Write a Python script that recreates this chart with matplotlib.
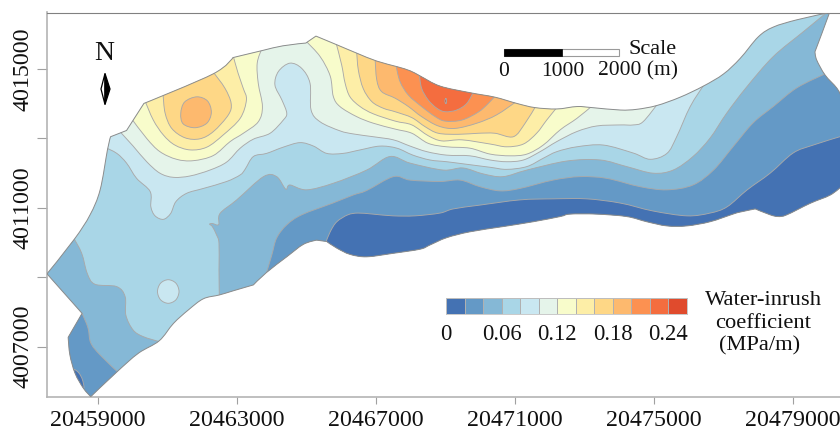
import matplotlib
matplotlib.use('Agg')
import numpy as np
import matplotlib.pyplot as plt
from matplotlib.colors import ListedColormap, BoundaryNorm
from matplotlib.patches import PathPatch, Polygon, Rectangle
from matplotlib.path import Path

plt.rcParams['font.family'] = ['Liberation Serif', 'DejaVu Serif']

# map origin, all outlines below are km east / north of it
E0 = 20459000
N0 = 4007000

levels = [0, 0.02, 0.04, 0.06, 0.08, 0.10, 0.12, 0.14, 0.16, 0.18, 0.20, 0.22, 0.24, 0.26]
band_colors = ['#4472b3', '#6499c6', '#85b8d6', '#a9d6e7', '#c9e7f1', '#e5f4ea', '#f8fccb',
               '#fdeea7', '#fed786', '#fdb96e', '#fc9151', '#f46d3f', '#e04b2d']
cbar_ticks = [0, 0.06, 0.12, 0.18, 0.24]
x_ticks = [20459000, 20463000, 20467000, 20471000, 20475000, 20479000]
y_ticks = [4007000, 4009000, 4011000, 4013000, 4015000]
y_labels = ['4007000', '', '4011000', '', '4015000']

area = [(-1.46, 2.10), (-0.67, 3.10), (-0.22, 3.80), (0.07, 4.52), (0.28, 5.67), (0.37, 6.05),
        (0.83, 6.23), (1.33, 7.01), (3.32, 7.86), (3.89, 8.33), (4.72, 8.53), (5.33, 8.67),
        (5.99, 8.75), (6.28, 8.95), (6.88, 8.70), (7.45, 8.46), (8.03, 8.23), (8.61, 8.07),
        (8.99, 7.95), (9.28, 7.80), (9.85, 7.51), (10.71, 7.32), (11.43, 7.19), (12.06, 7.01),
        (12.58, 6.89), (13.21, 6.85), (13.79, 6.92), (14.22, 6.89), (15.03, 6.82), (15.51, 6.84),
        (16.09, 6.95), (16.76, 7.19), (17.43, 7.51), (18.01, 7.86), (18.49, 8.31), (19.01, 8.93),
        (19.44, 9.21), (20.12, 9.42), (21.06, 9.63), (20.84, 9.03), (20.64, 8.50), (20.69, 8.26),
        (20.93, 7.83), (21.27, 7.45), (21.42, 7.17), (21.42, 4.63), (21.08, 4.37), (20.50, 4.13),
        (19.83, 3.80), (19.58, 3.75), (19.35, 3.80), (18.92, 3.97), (18.49, 3.88), (18.28, 3.82),
        (17.62, 3.60), (16.95, 3.48), (16.38, 3.48), (15.80, 3.60), (15.22, 3.75), (14.36, 3.82),
        (13.59, 3.82), (13.31, 3.75), (12.53, 3.60), (11.66, 3.46), (10.71, 3.31), (10.04, 3.14),
        (9.56, 2.93), (9.28, 2.81), (8.50, 2.69), (7.74, 2.59), (7.26, 2.66), (6.88, 2.84),
        (6.59, 3.03), (6.30, 3.07), (5.92, 2.95), (5.44, 2.59), (4.86, 2.14), (4.48, 1.78),
        (3.90, 1.61), (3.50, 1.49), (3.04, 1.38), (2.61, 1.06), (2.18, 0.67), (1.77, 0.17),
        (1.17, -0.19), (0.56, -0.72), (-0.20, -1.44), (-0.41, -1.20), (-0.65, -0.77), (-0.80, -0.24),
        (-0.85, 0.27), (-0.45, 0.96)]

# isolines, each one runs from edge to edge of the area
iso_002 = [(6.56, 2.99), (6.69, 3.31), (6.88, 3.60), (7.20, 3.80), (7.49, 3.85), (7.92, 3.82),
           (8.50, 3.77), (9.13, 3.77), (9.85, 3.85), (10.23, 3.97), (11.00, 4.08), (12.15, 4.23),
           (13.10, 4.26), (14.07, 4.26), (15.03, 4.14), (15.98, 3.91), (16.96, 3.77), (17.62, 3.85),
           (18.11, 4.03), (18.69, 4.52), (19.35, 5.00), (20.01, 5.58), (20.59, 5.81), (21.42, 6.07)]
iso_002_tip = [(-0.68, -0.66), (-0.54, -0.76), (-0.44, -0.95), (-0.40, -1.19), (-0.55, -1.10), (-0.68, -0.84)]

iso_004 = [(4.84, 2.07), (5.01, 2.64), (5.15, 3.13), (5.44, 3.51), (5.87, 3.80), (6.77, 4.14),
           (7.35, 4.37), (7.74, 4.50), (8.51, 4.90), (8.99, 4.80), (9.85, 4.76), (10.43, 4.80),
           (11.00, 4.61), (11.58, 4.49), (12.15, 4.56), (13.10, 4.80), (13.88, 4.90), (14.65, 4.85),
           (15.61, 4.61), (16.38, 4.52), (17.13, 4.66), (17.72, 5.09), (18.28, 5.76), (18.86, 6.45),
           (19.44, 6.92), (20.12, 7.46), (20.99, 7.89)]
iso_004_sw = [(-0.45, 0.96), (-0.28, 0.54), (-0.20, 0.11), (0.07, -0.24), (0.64, -0.79)]

iso_006 = [(3.50, 1.40), (3.49, 2.21), (3.49, 2.98), (3.42, 3.22), (3.30, 3.46), (3.22, 3.53),
           (3.30, 3.55), (3.48, 3.52), (3.52, 3.84), (4.00, 4.23), (4.77, 4.90), (5.15, 4.90),
           (5.41, 4.54), (5.53, 4.66), (6.01, 4.52), (6.78, 4.71), (7.74, 5.09), (8.41, 5.48),
           (8.99, 5.29), (9.94, 5.09), (10.51, 5.15), (11.09, 4.98), (11.66, 4.90), (12.35, 5.09),
           (13.50, 5.35), (14.46, 5.38), (15.22, 5.19), (15.98, 5.00), (16.56, 5.09), (17.13, 5.48),
           (17.62, 6.01), (18.10, 6.73), (18.68, 7.49), (19.44, 8.36), (20.31, 9.08), (21.10, 9.73)]
iso_006_sw = [(-0.70, 3.15), (-0.46, 2.69), (-0.30, 2.11), (-0.08, 1.80), (0.55, 1.73), (0.79, 1.44),
              (0.81, 0.91), (1.02, 0.48), (1.31, 0.29), (1.79, 0.14)]

iso_008 = [(0.18, 5.76), (0.55, 5.57), (0.83, 5.29), (1.12, 4.85), (1.51, 4.47), (1.53, 4.03),
           (1.65, 3.77), (1.89, 3.67), (2.10, 3.84), (2.25, 4.18), (2.56, 4.42), (3.04, 4.56),
           (3.71, 4.76), (4.10, 4.95), (4.24, 5.11), (4.48, 5.48), (4.86, 5.57), (5.34, 5.75),
           (5.82, 5.88), (6.21, 5.78), (6.59, 5.57), (7.06, 5.57), (7.55, 5.67), (8.12, 5.78),
           (8.61, 5.72), (9.07, 5.52), (9.56, 5.38), (10.04, 5.33), (10.51, 5.27), (11.29, 5.17),
           (11.77, 5.11), (12.35, 5.19), (12.82, 5.43), (13.21, 5.62), (13.79, 5.76), (14.55, 5.81),
           (15.41, 5.58), (15.90, 5.40), (16.38, 5.57), (16.66, 6.05), (17.05, 6.92), (17.48, 7.60)]
iso_008_pocket = [(2.03, 1.93), (2.25, 1.83), (2.34, 1.59), (2.25, 1.35), (2.03, 1.25), (1.81, 1.35),
                  (1.72, 1.59), (1.81, 1.83)]

iso_010 = [(0.61, 6.23), (1.02, 5.78), (1.41, 5.33), (1.79, 5.00), (2.18, 4.88), (2.66, 4.92),
           (3.23, 5.09), (3.71, 5.32), (4.10, 5.72), (4.48, 5.98), (4.96, 6.15), (5.34, 6.53),
           (5.44, 6.73), (5.30, 7.11), (5.10, 7.54), (5.20, 7.93), (5.53, 8.17), (5.87, 8.02),
           (6.11, 7.59), (6.14, 6.82), (6.40, 6.48), (6.97, 6.22), (7.36, 6.13), (7.93, 6.05),
           (8.51, 5.96), (8.99, 5.78), (9.47, 5.62), (10.04, 5.52), (10.71, 5.50), (11.29, 5.38),
           (11.77, 5.33), (12.25, 5.38), (12.73, 5.62), (13.21, 5.91), (13.79, 6.20), (14.36, 6.36),
           (15.03, 6.39), (15.41, 6.39), (15.69, 6.48), (16.13, 7.02)]

iso_012_w = [(0.96, 6.59), (1.41, 6.00), (1.79, 5.62), (2.27, 5.40), (2.75, 5.36), (3.33, 5.51),
             (3.81, 5.91), (4.19, 6.15), (4.62, 6.48), (4.74, 6.92), (4.62, 7.59), (4.59, 8.17), (4.73, 8.61)]
iso_012_e = [(5.99, 8.81), (6.40, 8.36), (6.69, 7.80), (6.78, 7.21), (6.97, 6.92), (7.45, 6.63),
             (7.93, 6.44), (8.56, 6.27), (9.04, 6.15), (9.51, 5.86), (10.04, 5.76), (10.71, 5.72),
             (11.29, 5.55), (11.87, 5.50), (12.35, 5.55), (12.82, 5.81), (13.31, 6.25), (13.79, 6.58),
             (14.23, 6.94)]

iso_014_w = [(1.35, 7.11), (1.60, 6.53), (1.89, 6.10), (2.22, 5.81), (2.66, 5.67), (3.14, 5.75),
             (3.61, 6.10), (4.10, 6.58), (4.28, 7.11), (4.19, 7.44), (4.04, 7.88), (3.89, 8.41)]
iso_014_e = [(6.86, 8.75), (7.02, 8.12), (7.12, 7.59), (7.26, 7.20), (7.55, 6.92), (7.93, 6.71),
             (8.56, 6.50), (9.04, 6.39), (9.51, 6.08), (9.90, 5.93), (10.48, 5.96), (11.29, 5.84),
             (11.77, 5.76), (12.25, 5.84), (12.63, 6.15), (12.92, 6.53), (13.25, 6.94)]

iso_016_w = [(1.88, 7.28), (1.94, 6.73), (2.13, 6.29), (2.51, 6.02), (2.94, 5.99), (3.33, 6.20),
             (3.76, 6.68), (3.84, 7.01), (3.66, 7.45), (3.32, 7.92)]
iso_016_e = [(7.45, 8.52), (7.50, 7.97), (7.64, 7.44), (7.89, 7.06), (8.22, 6.87), (8.56, 6.77),
             (9.04, 6.60), (9.42, 6.34), (9.80, 6.15), (10.38, 6.12), (10.95, 6.15), (11.43, 6.15),
             (11.96, 6.05), (12.30, 6.44), (12.61, 6.94)]

iso_018_w = [(2.39, 6.72), (2.50, 7.05), (2.85, 7.20), (3.16, 7.08), (3.27, 6.75), (3.14, 6.44),
             (2.80, 6.31), (2.46, 6.42)]
iso_018_e = [(7.98, 8.32), (8.03, 7.69), (8.17, 7.35), (8.56, 7.16), (8.94, 6.92), (9.32, 6.63),
             (9.80, 6.36), (10.28, 6.29), (10.91, 6.44), (11.48, 6.68), (12.07, 7.08)]

iso_020 = [(8.58, 8.12), (8.70, 7.64), (8.94, 7.25), (9.32, 6.92), (9.71, 6.63), (10.00, 6.50),
           (10.48, 6.53), (10.95, 6.76), (11.23, 7.00), (11.46, 7.25)]
iso_022 = [(9.25, 7.89), (9.32, 7.45), (9.51, 7.11), (9.76, 6.87), (10.00, 6.77), (10.33, 6.82),
           (10.62, 7.01), (10.83, 7.37)]
iso_024 = [(10.02, 7.16), (10.04, 7.08), (10.02, 7.00), (9.99, 7.08)]


def to_map(pts):
    pts = np.array(pts, dtype=float)
    return np.column_stack((E0 + 1000 * pts[:, 0], N0 + 1000 * pts[:, 1]))


def spline(pts, closed=False, corner_deg=None):
    # catmull-rom through the read points, as bezier segments
    pts = to_map(pts)
    if closed:
        p = np.vstack((pts[-1], pts, pts[0], pts[1]))
    else:
        p = np.vstack((pts[0], pts, pts[-1]))
    tan = np.zeros_like(p)
    tan[1:-1] = (p[2:] - p[:-2]) / 6
    if corner_deg is not None:
        # sharp vertices of the outline keep no tangent
        for i in range(1, len(p) - 1):
            a = p[i] - p[i - 1]
            b = p[i + 1] - p[i]
            cos_t = a.dot(b) / (np.linalg.norm(a) * np.linalg.norm(b))
            if np.degrees(np.arccos(np.clip(cos_t, -1, 1))) > corner_deg:
                tan[i] = 0
    verts = [p[1]]
    codes = [Path.MOVETO]
    for i in range(1, len(p) - 2):
        verts += [p[i] + tan[i], p[i + 1] - tan[i + 1], p[i + 1]]
        codes += [Path.CURVE4] * 3
    return verts, codes


def band(pts, color, outer=None, closed=False):
    # outer = points outside the area that close the fill, default is straight up over the north
    verts, codes = spline(pts, closed)
    if not closed:
        if outer is None:
            outer = [(pts[-1][0], 10.3), (pts[0][0], 10.3)]
        verts = verts + list(to_map(outer)) + [verts[0]]
        codes = codes + [Path.LINETO] * len(outer) + [Path.CLOSEPOLY]
    fill = PathPatch(Path(verts, codes), fc=color, ec='none', zorder=2)
    ax.add_patch(fill)
    fill.set_clip_path(clip)
    v2, c2 = spline(pts, closed)
    stroke = PathPatch(Path(v2, c2), fc='none', ec=line_color, lw=0.65, zorder=3)
    ax.add_patch(stroke)
    stroke.set_clip_path(clip)


line_color = '#a9a9a9'
fig = plt.figure(figsize=(8.4, 4.29), dpi=100)
ax = fig.add_axes([47 / 840, 1 - 397 / 429, 793 / 840, 384.5 / 429])
ax.set_xlim(E0 - 1459, E0 + 21360)
ax.set_ylim(N0 - 1450, N0 + 9630)

area_verts, area_codes = spline(area, closed=True, corner_deg=25)
clip = PathPatch(Path(area_verts, area_codes), fc=band_colors[3], ec='none', zorder=1)
ax.add_patch(clip)

# lower bands are cut out of the base colour, upper ones laid over it
band(iso_006_sw, band_colors[2], outer=[(1.79, -1.8), (-1.9, -1.8), (-1.9, 3.4)])
band(iso_006, band_colors[2], outer=[(21.6, 9.9), (21.6, -1.8), (3.50, -1.8)])
band(iso_004_sw, band_colors[1], outer=[(0.64, -1.8), (-1.09, -1.8), (-1.09, 0.77)])
band(iso_004, band_colors[1], outer=[(21.65, 7.97), (21.65, -1.8), (4.84, -1.8)])
band(iso_002, band_colors[0], outer=[(21.65, 6.07), (21.65, -1.8), (6.56, -1.8)])
band(iso_002_tip, band_colors[0], closed=True)

band(iso_008, band_colors[4])
band(iso_008_pocket, band_colors[4], closed=True)
band(iso_010, band_colors[5])
band(iso_012_w, band_colors[6])
band(iso_012_e, band_colors[6])
band(iso_014_w, band_colors[7])
band(iso_014_e, band_colors[7])
band(iso_016_w, band_colors[8])
band(iso_016_e, band_colors[8])
band(iso_018_w, band_colors[9], closed=True)
band(iso_018_e, band_colors[9])
band(iso_020, band_colors[10])
band(iso_022, band_colors[11])
band(iso_024, '#c8503a', closed=True)

ax.add_patch(PathPatch(Path(area_verts, area_codes), fc='none', ec='#8c8c8c', lw=0.7, zorder=4))

# axes frame
ax.spines['right'].set_visible(False)
ax.spines['top'].set_color('#808080')
ax.spines['top'].set_linewidth(0.8)
for side in ['left', 'bottom']:
    ax.spines[side].set_color('#b4b4b4')
    ax.spines[side].set_linewidth(1.2)
ax.set_xticks(x_ticks)
ax.set_xticklabels([str(v) for v in x_ticks], fontsize=17.3)
ax.set_yticks(y_ticks)
ax.set_yticklabels(y_labels, fontsize=17.3, rotation=90, va='center')
ax.tick_params(axis='x', length=5, width=0.8, color='#a0a0a0', pad=4, labelcolor='#111111')
ax.tick_params(axis='y', length=7, width=0.8, color='#a0a0a0', pad=3, labelcolor='#111111')


def fx(px):
    return px / 840


def fy(py):
    return 1 - py / 429


# scale bar
fig.add_artist(Rectangle((fx(504.3), fy(56)), 115 / 840, 6.7 / 429, transform=fig.transFigure,
                         fc='white', ec='#9a9a9a', lw=0.8))
fig.add_artist(Rectangle((fx(504.3), fy(56)), 57.7 / 840, 6.7 / 429, transform=fig.transFigure,
                         fc='black', ec='black', lw=0.5))
fig.text(fx(628.3), fy(49.5), 'Scale', fontsize=16, ha='left', va='center', color='#111111')
fig.text(fx(504), fy(71), '0', fontsize=15.5, ha='center', va='center', color='#111111')
fig.text(fx(562.3), fy(71), '1000', fontsize=15.5, ha='center', va='center', color='#111111')
fig.text(fx(638.3), fy(71), '2000 (m)', fontsize=15.5, ha='center', va='center', color='#111111')

# north arrow
fig.text(fx(104), fy(54), 'N', fontsize=20, ha='center', va='center', color='#111111')
fig.add_artist(Polygon([(fx(105), fy(73.5)), (fx(101), fy(89)), (fx(105), fy(104.5))], closed=True,
                       transform=fig.transFigure, fc='white', ec='black', lw=0.9))
fig.add_artist(Polygon([(fx(105), fy(73.5)), (fx(110), fy(89)), (fx(105), fy(104.5))], closed=True,
                       transform=fig.transFigure, fc='black', ec='black', lw=0.9))

# colour key
cax = fig.add_axes([fx(446), fy(313.7), 240.7 / 840, 15.4 / 429])
cmap = ListedColormap(band_colors)
norm = BoundaryNorm(levels, cmap.N)
cax.pcolormesh(levels, [0, 1], [levels[:-1]], cmap=cmap, norm=norm, edgecolors='#b0b0b0', linewidth=0.5)
cax.set_xlim(levels[0], levels[-1])
cax.set_yticks([])
cax.set_xticks(cbar_ticks)
cax.set_xticklabels(['0', '0.06', '0.12', '0.18', '0.24'], fontsize=16.3)
cax.tick_params(axis='x', length=0, pad=7.5, labelcolor='#111111')
for s in cax.spines.values():
    s.set_color('#c0c0c0')
    s.set_linewidth(0.6)

fig.text(fx(763.3), fy(300.5), 'Water-inrush', fontsize=16.2, ha='center', va='center', color='#111111')
fig.text(fx(763.3), fy(323.5), 'coefficient', fontsize=16.2, ha='center', va='center', color='#111111')
fig.text(fx(760), fy(345.5), '(MPa/m)', fontsize=16.2, ha='center', va='center', color='#111111')

fig.savefig('out.png', dpi=100)
